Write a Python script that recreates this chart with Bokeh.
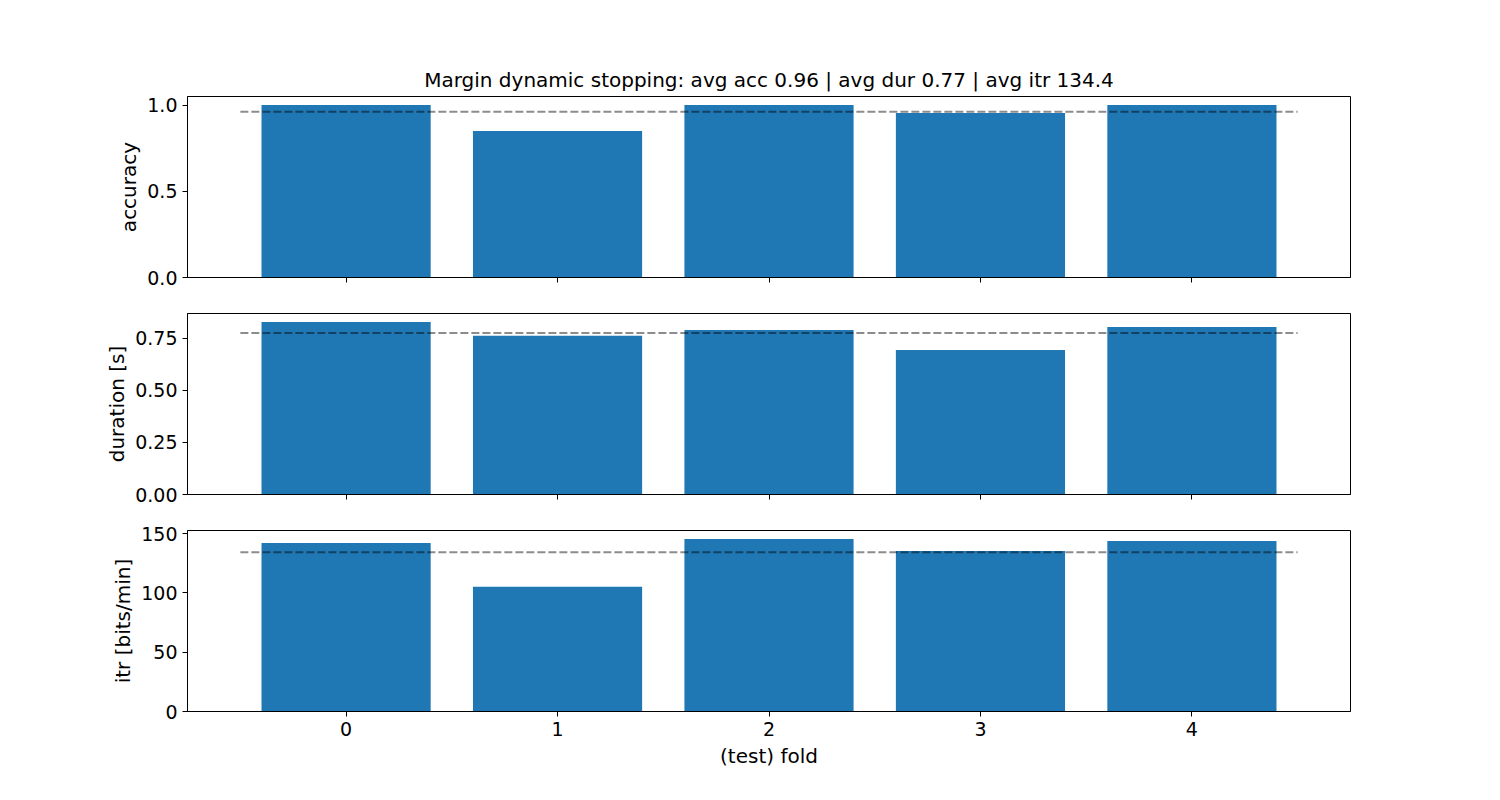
import numpy as np
from bokeh.plotting import figure
from bokeh.layouts import column
from bokeh.models import Range1d, FixedTicker, NumeralTickFormatter
from bokeh.embed import file_html
from bokeh.resources import INLINE

folds = [0, 1, 2, 3, 4]
accuracy = [1.0, 0.85, 1.0, 0.955, 1.0]
duration = [0.828, 0.763, 0.790, 0.694, 0.804]
itr = [142.2, 105.3, 145.4, 135.3, 143.8]

acc_ticks = [0.0, 0.5, 1.0]
dur_ticks = [0.0, 0.25, 0.5, 0.75]
itr_ticks = [0, 50, 100, 150]
x_ticks = [0, 1, 2, 3, 4]

title = "Margin dynamic stopping: avg acc 0.96 | avg dur 0.77 | avg itr 134.4"
ylabels = ["accuracy", "duration [s]", "itr [bits/min]"]
xlabel = "(test) fold"

FONT = "DejaVu Sans"
BLUE = "#1f77b4"
TICK_SIZE = "19px"
LABEL_SIZE = "20px"
TITLE_SIZE = "20px"


def make_panel(values, ticks, fmt, ylabel, top_border, bottom_border, show_x_labels, title_text=None):
    lo = folds[0] - 0.5
    hi = folds[-1] + 0.5
    pad = (hi - lo) * 0.05
    p = figure(frame_width=1163, frame_height=181,
               min_border_left=187, min_border_right=150,
               min_border_top=top_border, min_border_bottom=bottom_border,
               x_range=Range1d(lo - pad, hi + pad),
               y_range=Range1d(0, max(values) * 1.05),
               output_backend="svg", toolbar_location=None,
               background_fill_color="white", border_fill_color="white")
    p.vbar(x=folds, top=values, width=0.8, color=BLUE, line_color=None)
    avg = float(np.mean(values))
    p.line([lo, hi], [avg, avg], line_color="black", line_alpha=0.45,
           line_width=2, line_dash="8 3")
    p.grid.visible = False
    p.outline_line_color = "black"
    p.outline_line_alpha = 1.0
    p.outline_line_width = 1

    for ax in (p.xaxis[0], p.yaxis[0]):
        ax.axis_line_color = "black"
        ax.major_tick_line_color = "black"
        ax.major_tick_out = 5
        ax.major_tick_in = 0
        ax.minor_tick_line_color = None
        ax.major_label_text_font = FONT
        ax.major_label_text_font_size = TICK_SIZE
        ax.major_label_text_color = "black"
        ax.axis_label_text_font = FONT
        ax.axis_label_text_font_size = LABEL_SIZE
        ax.axis_label_text_font_style = "normal"
        ax.axis_label_text_color = "black"
        ax.major_label_standoff = 5

    p.xaxis.ticker = FixedTicker(ticks=x_ticks)
    p.yaxis.ticker = FixedTicker(ticks=ticks)
    p.yaxis.formatter = NumeralTickFormatter(format=fmt)
    p.yaxis.axis_label = ylabel
    p.yaxis.axis_label_standoff = 3

    if show_x_labels:
        p.xaxis.axis_label = xlabel
        p.xaxis.axis_label_standoff = 5
    else:
        p.xaxis.major_label_overrides = {t: "" for t in x_ticks}
        p.xaxis.major_label_standoff = 0

    if title_text:
        p.title.text = title_text
        p.title.align = "center"
        p.title.text_font = FONT
        p.title.text_font_size = TITLE_SIZE
        p.title.text_font_style = "normal"
        p.title.text_color = "black"
    return p


p1 = make_panel(accuracy, acc_ticks, "0.0", ylabels[0], 96, 18, False, title)
p2 = make_panel(duration, dur_ticks, "0.00", ylabels[1], 18, 18, False)
p3 = make_panel(itr, itr_ticks, "0", ylabels[2], 18, 88, True)

layout = column(p1, p2, p3, spacing=0)
open("out.html", "w").write(file_html(layout, INLINE))
